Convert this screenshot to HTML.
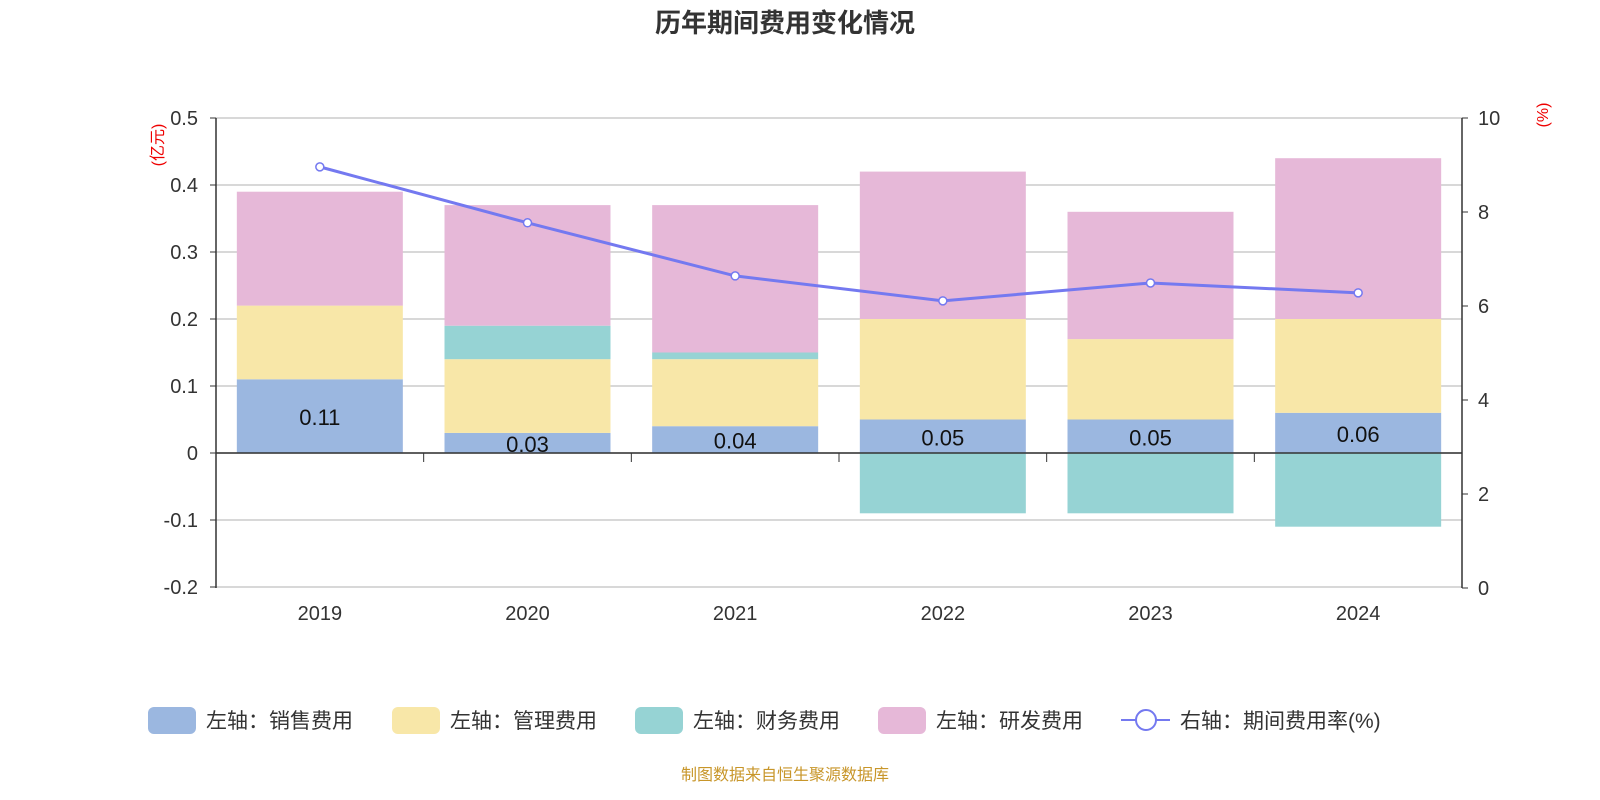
<!DOCTYPE html>
<html><head><meta charset="utf-8"><style>
body{margin:0;background:#fff;font-family:"Liberation Sans","Noto Sans CJK SC",sans-serif}
</style></head><body>
<svg id="c" width="1600" height="800" xmlns="http://www.w3.org/2000/svg" style="display:block">
<text x="785" y="32" text-anchor="middle" font-size="26" font-weight="bold" fill="#333" font-family="Liberation Sans,Noto Sans CJK SC,sans-serif">历年期间费用变化情况</text>
<text transform="translate(163,145) rotate(-90)" text-anchor="middle" font-size="16" fill="#e00" font-family="Liberation Sans,Noto Sans CJK SC,sans-serif">(亿元)</text>
<text transform="translate(1548,115) rotate(-90)" text-anchor="middle" font-size="16" fill="#e00" font-family="Liberation Sans,Noto Sans CJK SC,sans-serif">(%)</text>
<g id="g"></g>
<text x="785" y="780" text-anchor="middle" font-size="16" fill="#c8962a" font-family="Liberation Sans,Noto Sans CJK SC,sans-serif">制图数据来自恒生聚源数据库</text>
</svg>
<script>
const categories=['2019','2020','2021','2022','2023','2024'];
const sales=[0.11,0.03,0.04,0.05,0.05,0.06];
const admin=[0.11,0.11,0.10,0.15,0.12,0.14];
const finance=[0,0.05,0.01,-0.09,-0.09,-0.11];
const rnd=[0.17,0.18,0.22,0.22,0.19,0.24];
const rate=[8.96,7.77,6.64,6.11,6.49,6.28];
const leftTicks=[0.5,0.4,0.3,0.2,0.1,0,-0.1,-0.2];
const rightTicks=[10,8,6,4,2,0];
const NS='http://www.w3.org/2000/svg',g=document.getElementById('g');
const X0=216,X1=1462,bw=(X1-X0)/categories.length;
const yL=v=>453-v*670, yR=v=>588-v*47, cx=i=>X0+bw*(i+0.5);
const F='Liberation Sans,Noto Sans CJK SC,sans-serif';
function mk(t,a,txt){const e=document.createElementNS(NS,t);for(const k in a)e.setAttribute(k,a[k]);if(txt!=null)e.textContent=txt;g.appendChild(e);return e;}
leftTicks.forEach(v=>{
 const l=mk('line',{x1:X0,x2:X1,y1:yL(v),y2:yL(v),stroke:'#ccc','stroke-width':1.5});
 
 const t=mk('text',{x:X0-18,y:yL(v)+7,'text-anchor':'end','font-size':20,fill:'#333','font-family':F},v===0?'0':String(v));
 
 mk('line',{x1:X0-6,x2:X0,y1:yL(v),y2:yL(v),stroke:'#333'});
});
rightTicks.forEach(v=>{
 const t=mk('text',{x:X1+16,y:yR(v)+7,'font-size':20,fill:'#333','font-family':F},String(v));
 
 mk('line',{x1:X1,x2:X1+6,y1:yR(v),y2:yR(v),stroke:'#333'});
});
const colors=['#9bb7e0','#f8e7a8','#96d3d4','#e6b8d8'];
const names=['sales','admin','finance','rnd'];
categories.forEach((c,i)=>{
 const x=cx(i)-83;let pos=0,neg=0;
 [sales,admin,finance,rnd].forEach((s,k)=>{
  const v=s[i];if(!v)return;let a,b;
  if(v>0){a=pos;b=pos+v;pos=b;}else{a=neg;b=neg+v;neg=b;}
  const r=mk('rect',{x:x,width:166,y:Math.min(yL(a),yL(b)),height:Math.abs(yL(a)-yL(b)),fill:colors[k]});
  
 });
 const t=mk('text',{x:cx(i),y:yL(sales[i]/2)+9,'text-anchor':'middle','font-size':22,fill:'#111','font-family':F},sales[i].toFixed(2));
 
 const xl=mk('text',{x:cx(i),y:620,'text-anchor':'middle','font-size':20,fill:'#333','font-family':F},c);
 
});
mk('line',{x1:X0,x2:X0,y1:118,y2:588,stroke:'#333','stroke-width':1.5});
mk('line',{x1:X1,x2:X1,y1:118,y2:588,stroke:'#333','stroke-width':1.5});
const zl=mk('line',{x1:X0,x2:X1,y1:453,y2:453,stroke:'#333','stroke-width':1.5});

for(let i=0;i<=categories.length;i++)mk('line',{x1:X0+bw*i,x2:X0+bw*i,y1:453,y2:462,stroke:'#333'});
const pl=mk('polyline',{points:rate.map((v,i)=>cx(i)+','+yR(v)).join(' '),fill:'none',stroke:'#7479f0','stroke-width':3});

rate.forEach((v,i)=>{const p=mk('circle',{cx:cx(i),cy:yR(v),r:4,fill:'#fff',stroke:'#7479f0','stroke-width':1.5});
 });
const leg=[['左轴：销售费用',colors[0],148],['左轴：管理费用',colors[1],392],['左轴：财务费用',colors[2],635],['左轴：研发费用',colors[3],878]];
leg.forEach(([t,c,x])=>{
 const r=mk('rect',{x:x,y:707,width:48,height:27,rx:6,fill:c});
 
 const tx=mk('text',{x:x+58,y:728,'font-size':21,fill:'#333','font-family':F},t);
 
});
mk('line',{x1:1121,x2:1170,y1:720,y2:720,stroke:'#7479f0','stroke-width':2});
mk('circle',{cx:1146,cy:720,r:10,fill:'#fff',stroke:'#7479f0','stroke-width':2});
const lt=mk('text',{x:1180,y:728,'font-size':21,fill:'#333','font-family':F},'右轴：期间费用率(%)');

</script>
</body></html>
